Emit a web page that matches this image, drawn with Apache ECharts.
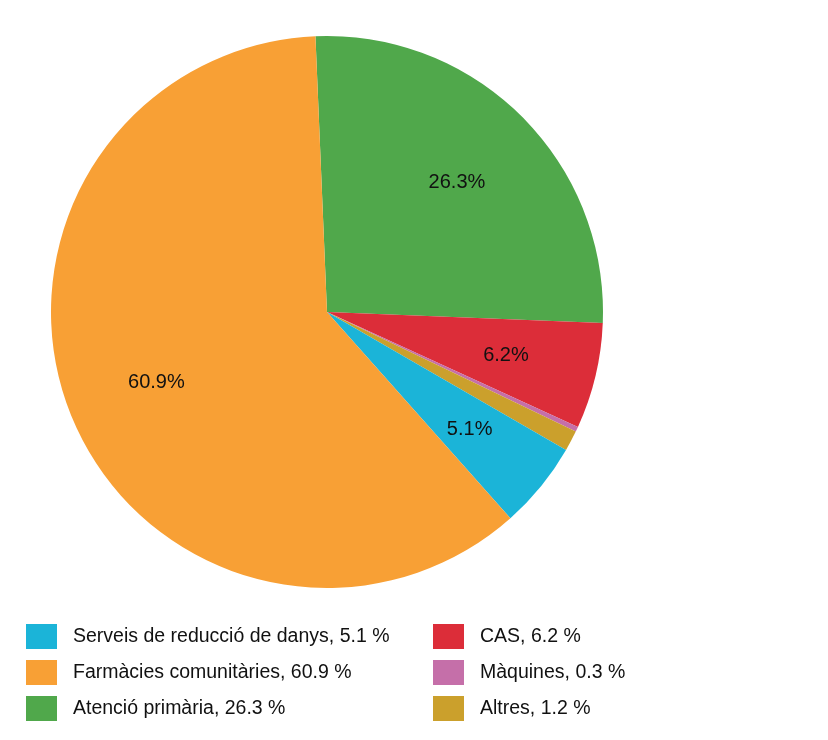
<!DOCTYPE html>
<html><head><meta charset="utf-8">
<script src="https://cdn.jsdelivr.net/npm/echarts@6/dist/echarts.min.js"></script>
<style>html,body{margin:0;padding:0;background:#fff}#c{width:828px;height:740px}</style>
</head><body><div id="c"></div>
<script>
const categories = ['Atenció primària','CAS','Màquines','Altres','Serveis de reducció de danys','Farmàcies comunitàries'];
const values = [26.3, 6.2, 0.3, 1.2, 5.1, 60.9];
const colors = ['#50a84b','#dc2d39','#c56fa9','#cba02c','#1bb4d8','#f8a035'];
const legendLeft = ['Serveis de reducció de danys','Farmàcies comunitàries','Atenció primària'];
const legendRight = ['CAS','Màquines','Altres'];
const hiddenLabels = ['Màquines','Altres'];

const FONT = "'Liberation Sans', Arial, sans-serif";
const valueOf = {};
categories.forEach((c,i)=>valueOf[c]=values[i]);
const pieData = categories.map((c,i)=>({name:c,value:values[i],itemStyle:{color:colors[i]}}));
const labelData = categories.map((c,i)=>({name:c,value:values[i],
  label:{show: hiddenLabels.indexOf(c)<0}}));

const legendBase = {
  orient:'vertical', itemWidth:31, itemHeight:25, itemGap:11, icon:'rect',
  selectedMode:false,
  textStyle:{fontFamily:FONT, fontSize:19.5, color:'#111', padding:[0,0,0,11]},
  formatter: n => n + ', ' + valueOf[n].toFixed(1) + ' %'
};
const chart = echarts.init(document.getElementById('c'), null, {renderer:'canvas'});
chart.setOption({
  animation:false,
  legend:[
    Object.assign({}, legendBase, {left:21, top:619, data:legendLeft}),
    Object.assign({}, legendBase, {left:428, top:619, data:legendRight})
  ],
  series:[
    {type:'pie', center:[327,312], radius:[0,276], startAngle:92.4, clockwise:true,
     label:{show:false}, labelLine:{show:false}, data:pieData, silent:true},
    {type:'pie', center:[327,313], radius:[86,276], startAngle:92.4, clockwise:true,
     silent:true, itemStyle:{color:'transparent', borderWidth:0},
     label:{show:true, position:'inside', formatter: p => p.value.toFixed(1)+'%',
       fontFamily:FONT, fontSize:20, color:'#111', fontWeight:'normal'},
     labelLine:{show:false}, data:labelData}
  ]
});
</script></body></html>
